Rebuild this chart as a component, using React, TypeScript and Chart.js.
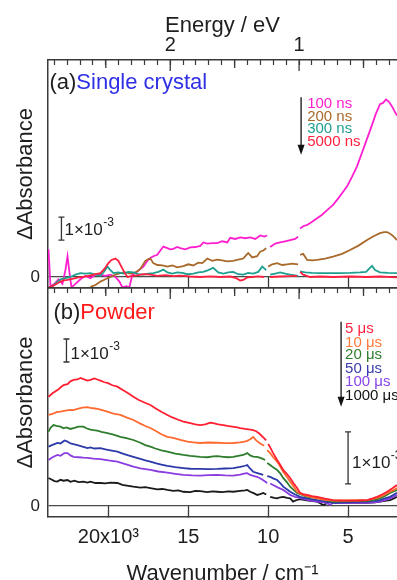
import React, { useEffect, useRef } from 'react';
import { Chart, registerables } from 'chart.js';

Chart.register(...registerables);

type Pt = [number, number | null];

// ---- Panel (a) Single crystal : [wavenumber cm-1, dAbs (x1e-3)] ----
const s100ns: Pt[] = [[23750,1.2],[23625,-0.4],[23375,-0.3],[23125,-0.1],[22875,-0.3],[22690,0.3],[22560,0.9],[22440,0.2],[22310,-0.45],[22060,-0.3],[21750,-0.1],[21440,0.05],[21125,-0.05],[20810,0.1],[20500,0.1],[20190,0.05],[19875,0.1],[19560,0.0],[19310,-0.2],[19125,-0.45],[18875,-0.4],[18690,-0.45],[18500,0.1],[18250,0.2],[18000,0.35],[17810,0.45],[17560,0.7],[17375,0.82],[17190,0.9],[16940,0.96],[16750,1.15],[16560,1.32],[16310,1.25],[16125,1.2],[15940,1.22],[15690,1.3],[15500,1.25],[15190,1.2],[14875,1.28],[14560,1.3],[14250,1.35],[14060,1.5],[13810,1.45],[13500,1.47],[13190,1.47],[12875,1.55],[12560,1.5],[12375,1.7],[12060,1.65],[11750,1.72],[11440,1.68],[11125,1.72],[10810,1.65],[10500,1.8],[10250,1.75],[10060,1.8],[9970,null],[9875,1.3],[9560,1.45],[9250,1.5],[8940,1.55],[8625,1.6],[8310,1.65],[8125,1.75],[8060,null],[8000,2.1],[7810,2.2],[7560,2.26],[7250,2.4],[6940,2.55],[6625,2.7],[6310,2.9],[5940,3.13],[5625,3.4],[5310,3.7],[5060,3.93],[4750,4.35],[4440,4.8],[4125,5.4],[3810,6.0],[3500,6.6],[3250,7.1],[3000,7.5],[2810,7.55],[2625,7.7],[2440,7.6],[2250,7.4],[2060,7.15],[1940,7.0]];
const s200ns: Pt[] = [[21125,-0.43],[20810,-0.35],[20500,-0.2],[20190,-0.1],[19875,0.0],[19560,0.1],[19250,0.17],[18940,0.2],[18625,0.15],[18310,0.2],[18000,0.35],[17690,0.7],[17500,0.78],[17375,0.8],[17190,0.6],[16940,0.52],[16625,0.5],[16310,0.45],[16000,0.5],[15690,0.42],[15310,0.47],[15000,0.55],[14690,0.5],[14375,0.62],[14125,0.6],[13810,0.8],[13500,0.7],[13190,0.75],[12875,0.72],[12560,0.68],[12190,0.7],[11875,0.75],[11560,0.8],[11375,0.95],[11250,1.04],[11000,0.85],[10690,0.9],[10500,1.1],[10310,1.15],[10125,1.25],[10050,null],[10000,0.45],[9750,0.55],[9440,0.6],[9125,0.52],[8810,0.55],[8500,0.58],[8125,0.55],[8060,null],[8000,0.96],[7810,1.0],[7560,0.74],[7250,0.72],[6940,0.74],[6440,0.8],[5940,0.88],[5375,1.0],[4875,1.17],[4375,1.35],[3810,1.6],[3375,1.78],[3000,1.9],[2750,1.95],[2560,1.95],[2375,1.88],[2190,1.78],[1940,1.6]];
const s300ns: Pt[] = [[23750,-0.45],[23500,-0.4],[23250,-0.25],[23000,-0.1],[22690,-0.05],[22375,0.0],[22060,0.1],[21750,0.17],[21440,0.15],[21125,0.17],[20810,0.1],[20500,0.05],[20250,0.25],[20060,0.45],[19875,0.3],[19690,0.17],[19375,0.2],[19060,0.15],[18750,0.22],[18440,0.2],[18125,0.12],[17810,0.1],[17500,0.15],[17190,0.17],[16875,0.22],[16560,0.32],[16310,0.2],[16000,0.15],[15690,0.2],[15375,0.18],[15060,0.12],[14690,0.15],[14375,0.2],[14060,0.22],[13750,0.3],[13440,0.4],[13125,0.2],[12810,0.15],[12500,0.2],[12190,0.22],[11875,0.12],[11560,0.1],[11250,0.18],[10940,0.15],[10625,0.22],[10375,0.45],[10125,0.3],[10000,null],[9875,0.1],[9560,0.15],[9250,0.2],[8940,0.15],[8625,0.1],[8125,0.05],[8060,null],[8000,0.24],[7690,0.2],[7250,0.18],[6750,0.17],[6125,0.17],[5500,0.17],[4875,0.18],[4250,0.2],[3875,0.22],[3690,0.35],[3500,0.48],[3310,0.3],[3000,0.2],[2500,0.18],[1940,0.17]];
const s5000ns: Pt[] = [[23750,-0.45],[23500,-0.4],[23125,-0.25],[22810,-0.15],[22560,-0.13],[22250,-0.08],[21875,-0.02],[21560,0.0],[21250,0.05],[20940,0.1],[20500,0.17],[20250,0.35],[20000,0.6],[19810,0.74],[19560,0.8],[19375,0.7],[19190,0.45],[19000,0.2],[18810,0.0],[18500,0.05],[18125,0.08],[17810,0.12],[17375,0.1],[16940,0.05],[16440,0.08],[15940,0.04],[15500,0.06],[14875,0.02],[14250,0.0],[13625,0.03],[13000,0.0],[12375,0.02],[12000,-0.05],[11750,-0.15],[11560,-0.13],[11310,-0.02],[11000,0.0],[10625,0.03],[10250,0.0],[10000,null],[9875,0.0],[9250,0.02],[8625,0.04],[8190,0.05],[8060,null],[8000,0.22],[7810,0.1],[7375,0.0],[6750,0.02],[5940,0.0],[4875,0.02],[3810,0.0],[3000,0.02],[1940,-0.02]];

// ---- Panel (b) Powder ----
const s5us: Pt[] = [[23750,4.75],[23500,4.9],[23190,5.04],[23000,5.15],[22810,5.26],[22560,5.3],[22375,5.42],[22190,5.48],[21940,5.5],[21750,5.57],[21560,5.52],[21310,5.45],[21125,5.48],[20875,5.55],[20690,5.5],[20500,5.45],[20250,5.38],[20060,5.35],[19750,5.25],[19440,5.19],[19125,5.05],[18810,4.92],[18440,4.75],[18125,4.62],[17750,4.5],[17375,4.39],[17060,4.25],[16690,4.1],[16310,3.96],[16000,3.85],[15625,3.75],[15310,3.67],[14875,3.6],[14560,3.55],[14250,3.52],[13940,3.55],[13625,3.62],[13440,3.6],[13125,3.55],[12810,3.52],[12560,3.48],[12250,3.45],[11940,3.42],[11750,3.39],[11440,3.35],[11125,3.32],[10940,3.3],[10750,3.25],[10560,3.15],[10310,2.98],[10125,2.85],[10050,null],[10000,2.7],[9875,2.55],[9690,2.3],[9440,2.0],[9250,1.8],[9060,1.57],[8810,1.38],[8625,1.22],[8375,0.95],[8190,0.78],[8000,0.57],[7750,0.5],[7560,0.48],[7250,0.43],[6940,0.4],[6440,0.32],[5940,0.26],[5375,0.24],[4875,0.23],[4375,0.24],[3810,0.26],[3500,0.32],[3190,0.4],[2875,0.5],[2560,0.62],[2250,0.76],[1940,0.91]];
const s10us: Pt[] = [[23750,3.96],[23500,4.0],[23250,4.08],[23000,4.1],[22690,4.15],[22375,4.18],[22190,4.17],[21940,4.22],[21625,4.28],[21310,4.3],[21125,4.27],[20940,4.25],[20690,4.22],[20440,4.18],[20060,4.1],[19690,4.02],[19250,3.96],[18875,3.85],[18440,3.74],[18000,3.58],[17690,3.48],[17375,3.39],[17000,3.25],[16690,3.12],[16310,3.01],[15940,2.96],[15500,2.88],[15060,2.8],[14690,2.77],[14250,2.74],[13750,2.76],[13190,2.75],[12690,2.73],[12190,2.74],[11750,2.77],[11500,2.8],[11310,2.83],[11125,2.9],[10940,3.0],[10750,2.85],[10500,2.72],[10250,2.62],[10150,null],[10060,2.43],[9875,2.3],[9690,2.12],[9440,1.93],[9250,1.72],[9060,1.49],[8810,1.25],[8625,1.06],[8375,0.82],[8190,0.62],[8000,0.55],[7810,0.48],[7375,0.4],[6940,0.33],[6440,0.27],[5940,0.23],[5190,0.24],[4560,0.25],[3810,0.26],[3375,0.32],[3000,0.4],[2690,0.5],[2375,0.62],[2125,0.7],[1940,0.78]];
const s20us: Pt[] = [[23750,3.23],[23625,3.4],[23440,3.52],[23250,3.48],[23000,3.45],[22810,3.38],[22625,3.42],[22375,3.35],[22125,3.4],[21875,3.45],[21560,3.45],[21375,3.38],[21125,3.32],[20940,3.3],[20690,3.28],[20440,3.22],[20060,3.17],[19690,3.1],[19440,3.05],[19250,3.01],[18875,2.95],[18440,2.87],[18000,2.75],[17690,2.65],[17375,2.58],[17060,2.5],[16690,2.42],[16310,2.36],[15810,2.28],[15310,2.22],[14875,2.18],[14250,2.14],[13810,2.12],[13440,2.16],[13190,2.17],[12810,2.14],[12500,2.12],[12190,2.14],[11875,2.18],[11560,2.22],[11310,2.3],[11125,2.2],[10940,2.15],[10690,2.14],[10440,2.08],[10190,2.0],[10120,null],[10060,1.87],[9875,1.78],[9690,1.68],[9440,1.57],[9250,1.42],[9060,1.22],[8810,1.02],[8625,0.84],[8375,0.68],[8190,0.57],[7875,0.48],[7560,0.4],[7125,0.36],[6750,0.33],[6310,0.25],[5940,0.19],[5190,0.2],[4560,0.21],[3810,0.22],[3375,0.27],[3000,0.33],[2690,0.44],[2375,0.57],[2125,0.64],[1940,0.7]];
const s50us: Pt[] = [[23750,2.58],[23500,2.66],[23190,2.74],[23000,2.72],[22750,2.85],[22560,2.8],[22375,2.72],[22125,2.68],[21940,2.65],[21625,2.58],[21310,2.52],[21125,2.55],[20875,2.5],[20500,2.52],[20190,2.46],[19875,2.42],[19440,2.36],[19060,2.27],[18750,2.2],[18440,2.14],[18000,2.05],[17690,1.98],[17375,1.93],[17000,1.85],[16690,1.8],[16310,1.74],[15810,1.69],[15310,1.65],[14875,1.62],[14250,1.61],[13750,1.6],[13190,1.61],[12690,1.63],[12190,1.65],[11750,1.7],[11440,1.75],[11310,1.78],[11125,1.62],[10940,1.49],[10625,1.42],[10310,1.35],[10200,null],[10060,1.3],[9875,1.27],[9690,1.2],[9440,1.13],[9250,1.0],[9060,0.84],[8810,0.72],[8625,0.62],[8310,0.5],[8000,0.4],[7500,0.32],[6940,0.26],[6440,0.2],[5940,0.14],[5190,0.16],[4560,0.18],[3810,0.19],[3375,0.22],[3000,0.26],[2690,0.33],[2375,0.4],[2125,0.5],[1940,0.57]];
const s100us: Pt[] = [[23750,2.0],[23500,2.12],[23190,2.22],[23000,2.18],[22750,2.3],[22560,2.3],[22375,2.2],[22190,2.14],[21875,2.12],[21560,2.1],[21310,2.09],[20940,2.06],[20500,2.04],[20000,1.98],[19440,1.93],[18940,1.82],[18440,1.71],[18000,1.64],[17375,1.57],[16875,1.5],[16310,1.45],[15810,1.4],[15310,1.35],[14750,1.33],[14250,1.32],[13750,1.34],[13190,1.35],[12690,1.33],[12190,1.32],[11750,1.36],[11440,1.42],[11310,1.43],[11125,1.35],[10875,1.3],[10690,1.27],[10375,1.15],[10060,1.0],[9960,null],[9875,0.98],[9690,0.91],[9375,0.8],[9060,0.7],[8810,0.58],[8625,0.48],[8310,0.4],[8000,0.35],[7500,0.26],[6940,0.19],[6440,0.15],[6125,0.05],[5940,0.13],[5190,0.13],[4560,0.14],[3810,0.14],[3375,0.16],[3000,0.19],[2690,0.26],[2375,0.33],[2125,0.42],[1940,0.48]];
const s1000us: Pt[] = [[23750,1.22],[23560,1.15],[23375,1.08],[23190,1.06],[23000,1.14],[22810,1.1],[22560,1.13],[22375,1.05],[22125,1.1],[21875,1.04],[21560,1.06],[21310,1.02],[21125,1.06],[20810,1.0],[20500,1.0],[20190,0.98],[19875,1.02],[19440,1.0],[19125,0.92],[18750,0.88],[18440,0.84],[18000,0.8],[17690,0.82],[17375,0.78],[16940,0.72],[16625,0.74],[16310,0.7],[15940,0.66],[15625,0.68],[15310,0.62],[14875,0.6],[14560,0.66],[14250,0.65],[13810,0.6],[13500,0.64],[13190,0.62],[12875,0.6],[12500,0.64],[12190,0.62],[11750,0.66],[11440,0.68],[11310,0.7],[11125,0.62],[10875,0.55],[10690,0.48],[10500,0.52],[10310,0.57],[10125,0.5],[10000,null],[9875,0.4],[9625,0.35],[9440,0.33],[9250,0.38],[9060,0.4],[8810,0.35],[8625,0.33],[8440,0.19],[8250,0.25],[8000,0.3],[7690,0.26],[7375,0.22],[6940,0.19],[6750,0.12],[6560,0.04],[6375,0.1],[6125,0.19],[5500,0.16],[4875,0.14],[3810,0.14],[3310,0.16],[3000,0.19],[2690,0.22],[2375,0.26],[2125,0.33],[1940,0.4]];

const TOP_SERIES = [s5000ns, s300ns, s200ns, s100ns];
const TOP_COLORS = ['#ff1f3f', '#1f9f8f', '#a8692a', '#ff1fcf'];
const TOP_LEGEND = ['100 ns', '200 ns', '300 ns', '5000 ns'];
const TOP_LEGEND_COLORS = ['#ff1fcf', '#a8692a', '#1f9f8f', '#ff1f3f'];

const BOT_SERIES = [s5us, s10us, s20us, s50us, s100us, s1000us];
const BOT_COLORS = ['#ff1f30', '#ff6a30', '#2d7d2d', '#2b3aa8', '#8a3de0', '#1a1a1a'];
const BOT_LEGEND = ['5 μs', '10 μs', '20 μs', '50 μs', '100 μs', '1000 μs'];

const WN_TICKS = [20000, 15000, 10000, 5000];
const EV_LABELS = [1, 2];
const EV_MID = [0.5, 1.5, 2.5];
const CM_PER_EV = 8065.54;
const X_MIN = 1937.5;
const X_MAX = 23781;
const TOP_YR = [-0.478, 9.413];
const BOT_YR = [-0.478, 9.478];

const F = "'Liberation Sans', Arial, Helvetica, sans-serif";
const AX = '#3a3a3a';
const TXT = '#1e1e1e';

function drawArrow(ctx: CanvasRenderingContext2D, x: number, y1: number, y2: number) {
  ctx.strokeStyle = '#222';
  ctx.fillStyle = '#111';
  ctx.lineWidth = 1.4;
  ctx.beginPath();
  ctx.moveTo(x, y1);
  ctx.lineTo(x, y2 - 8);
  ctx.stroke();
  ctx.beginPath();
  ctx.moveTo(x - 3.5, y2 - 10);
  ctx.lineTo(x + 3.5, y2 - 10);
  ctx.lineTo(x, y2);
  ctx.closePath();
  ctx.fill();
}

function drawBar(ctx: CanvasRenderingContext2D, x: number, yA: number, yB: number) {
  ctx.strokeStyle = '#333';
  ctx.lineWidth = 1.3;
  ctx.beginPath();
  ctx.moveTo(x, yA); ctx.lineTo(x, yB);
  ctx.moveTo(x - 3, yA); ctx.lineTo(x + 3, yA);
  ctx.moveTo(x - 3, yB); ctx.lineTo(x + 3, yB);
  ctx.stroke();
}

function sciLabel(ctx: CanvasRenderingContext2D, x: number, base: number) {
  ctx.fillStyle = TXT;
  ctx.textAlign = 'left';
  ctx.textBaseline = 'alphabetic';
  ctx.font = `17px ${F}`;
  ctx.fillText('1×10', x, base);
  const w = ctx.measureText('1×10').width;
  ctx.font = `12px ${F}`;
  ctx.fillText('-3', x + w + 0.5, base - 9);
}

function panelLabel(ctx: CanvasRenderingContext2D, x: number, base: number, tag: string, name: string, color: string) {
  ctx.font = `22px ${F}`;
  ctx.textAlign = 'left';
  ctx.textBaseline = 'alphabetic';
  ctx.fillStyle = TXT;
  ctx.fillText(tag, x, base);
  const w = ctx.measureText(tag).width;
  ctx.fillStyle = color;
  ctx.fillText(name, x + w, base);
}

function makeAnnot(isTop: boolean) {
  return {
    id: 'annot' + (isTop ? 'T' : 'B'),
    afterDraw(chart: any) {
      const ctx: CanvasRenderingContext2D = chart.ctx;
      const xs = chart.scales.x, ys = chart.scales.y, es = chart.scales.e;
      const ca = chart.chartArea;
      const X = (v: number) => xs.getPixelForValue(v);
      const Y = (v: number) => ys.getPixelForValue(v);
      ctx.save();
      ctx.strokeStyle = AX;
      ctx.lineWidth = 1.3;
      ctx.beginPath();
      EV_LABELS.forEach((ev) => { const p = es.getPixelForValue(ev); ctx.moveTo(p, ca.top); ctx.lineTo(p, ca.top + 11); });
      EV_MID.forEach((ev) => { const p = es.getPixelForValue(ev); ctx.moveTo(p, ca.top); ctx.lineTo(p, ca.top + 8); });
      ctx.stroke();

      if (isTop) {
        panelLabel(ctx, X(23690), Y(8.17), '(a)', 'Single crystal', '#2f2fe6');
        drawBar(ctx, X(22940), Y(2.6), Y(1.6));
        sciLabel(ctx, X(22750), Y(1.83));
        drawArrow(ctx, X(7940), Y(7.8), Y(5.3));
        const bases = [7.35, 6.78, 6.26, 5.70];
        ctx.font = `15px ${F}`;
        ctx.textAlign = 'left';
        ctx.textBaseline = 'alphabetic';
        TOP_LEGEND.forEach((t, i) => { ctx.fillStyle = TOP_LEGEND_COLORS[i]; ctx.fillText(t, X(7560), Y(bases[i])); });
      } else {
        panelLabel(ctx, X(23440), Y(8.13), '(b)', 'Powder', '#ff1a1a');
        drawBar(ctx, X(22625), Y(7.26), Y(6.26));
        sciLabel(ctx, X(22375), Y(6.39));
        drawBar(ctx, X(5000), Y(3.22), Y(0.96));
        sciLabel(ctx, X(4750), Y(1.65));
        drawArrow(ctx, X(5437), Y(8.01), Y(4.32));
        const bases = [7.52, 6.93, 6.37, 5.8, 5.22, 4.63];
        const cols = ['#ff1f40', '#ff7a3a', '#2f7f2f', '#3a3aaa', '#8844e6', '#111111'];
        ctx.font = `15px ${F}`;
        ctx.textAlign = 'left';
        ctx.textBaseline = 'alphabetic';
        BOT_LEGEND.forEach((t, i) => { ctx.fillStyle = cols[i]; ctx.fillText(t, X(5187), Y(bases[i])); });
      }
      ctx.restore();
    },
  };
}

function makeConfig(isTop: boolean): any {
  const series = isTop ? TOP_SERIES : BOT_SERIES;
  const colors = isTop ? TOP_COLORS : BOT_COLORS;
  const yr = isTop ? TOP_YR : BOT_YR;
  const evTicks: number[] = [];
  for (let i = 3; i <= 29; i++) evTicks.push(i / 10);
  return {
    type: 'line',
    data: {
      datasets: series.map((d, i) => ({
        data: d,
        borderColor: colors[i],
        borderWidth: 1.8,
        pointRadius: 0,
        tension: 0,
        fill: false,
        spanGaps: false,
      })),
    },
    options: {
      animation: false,
      responsive: false,
      devicePixelRatio: 1,
      layout: { padding: 0 },
      plugins: { legend: { display: false }, tooltip: { enabled: false }, title: { display: false } },
      scales: {
        x: {
          type: 'linear',
          position: 'bottom',
          reverse: true,
          min: X_MIN,
          max: X_MAX,
          afterBuildTicks: (s: any) => { s.ticks = WN_TICKS.map((v) => ({ value: v })); },
          afterFit: (s: any) => { s.height = isTop ? 2 : 71; s.paddingLeft = 0; s.paddingRight = 0; },
          grid: { drawOnChartArea: false, drawTicks: true, tickLength: -11, tickColor: AX, tickWidth: 1.3 },
          border: { display: true, color: AX, width: 1.5 },
          ticks: {
            display: !isTop,
            padding: 19,
            color: TXT,
            autoSkip: false,
            maxRotation: 0,
            font: { family: F, size: 20 },
            callback: (v: number) => (v === 20000 ? '20x10³' : String(v / 1000)),
          },
          title: { display: !isTop, text: 'Wavenumber / cm⁻¹', color: TXT, font: { family: F, size: 22 }, padding: { top: 0, bottom: 0.4 } },
        },
        e: {
          type: 'linear',
          axis: 'x',
          position: 'top',
          reverse: true,
          min: X_MIN / CM_PER_EV,
          max: X_MAX / CM_PER_EV,
          afterBuildTicks: (s: any) => { s.ticks = evTicks.map((v) => ({ value: v })); },
          afterFit: (s: any) => { s.height = isTop ? 60 : 2; s.paddingLeft = 0; s.paddingRight = 0; },
          grid: { drawOnChartArea: false, drawTicks: true, tickLength: -5, tickColor: AX, tickWidth: 1.2 },
          border: { display: true, color: AX, width: 1.5 },
          ticks: {
            display: isTop,
            padding: 8,
            color: TXT,
            autoSkip: false,
            maxRotation: 0,
            font: { family: F, size: 20 },
            callback: (v: number) => (EV_LABELS.includes(v) ? String(v) : ''),
          },
          title: { display: isTop, text: 'Energy / eV', color: TXT, font: { family: F, size: 22 }, padding: { top: 12.8, bottom: 0 } },
        },
        y: {
          type: 'linear',
          position: 'left',
          min: yr[0],
          max: yr[1],
          afterBuildTicks: (s: any) => { s.ticks = [{ value: 0 }]; },
          afterFit: (s: any) => { s.width = 48; s.paddingTop = 0; s.paddingBottom = 0; },
          grid: { drawOnChartArea: true, drawTicks: false, color: '#4a4a4a', lineWidth: 1.3 },
          border: { display: true, color: AX, width: 1.5 },
          ticks: { padding: 8, color: TXT, font: { family: F, size: 17 }, callback: (v: number) => String(v) },
          title: { display: true, text: 'ΔAbsorbance', color: TXT, font: { family: F, size: 22 }, padding: { top: 13.2, bottom: 0 } },
        },
      },
    },
    plugins: [makeAnnot(isTop)],
  };
}

export default function App() {
  const topRef = useRef<HTMLCanvasElement>(null);
  const botRef = useRef<HTMLCanvasElement>(null);
  useEffect(() => {
    const c1 = new Chart(topRef.current as HTMLCanvasElement, makeConfig(true));
    const c2 = new Chart(botRef.current as HTMLCanvasElement, makeConfig(false));
    return () => { c1.destroy(); c2.destroy(); };
  }, []);
  return (
    <div style={{ position: 'absolute', left: 0, top: 0, width: 397, height: 580, overflow: 'hidden', background: '#fff' }}>
      <canvas ref={topRef} width={397} height={290} style={{ position: 'absolute', left: 0, top: 0, width: 397, height: 290 }} />
      <canvas ref={botRef} width={397} height={302} style={{ position: 'absolute', left: 0, top: 286, width: 397, height: 302 }} />
    </div>
  );
}
